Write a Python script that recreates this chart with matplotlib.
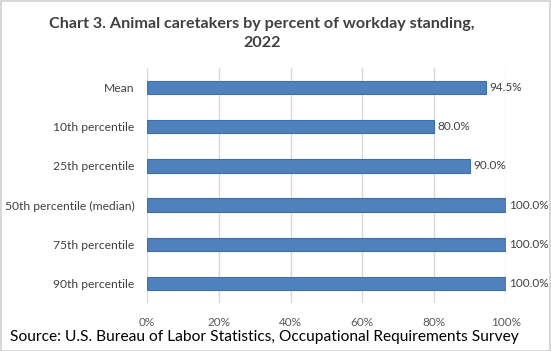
import matplotlib.pyplot as plt
from matplotlib.patches import Rectangle

categories = ['Mean', '10th percentile', '25th percentile', '50th percentile (median)',
              '75th percentile', '90th percentile']
values = [94.5, 80.0, 90.0, 100.0, 100.0, 100.0]
xticks = [0, 20, 40, 60, 80, 100]

plt.rcParams['font.family'] = ['Lato', 'DejaVu Sans']

fig = plt.figure(figsize=(5.51, 3.51), dpi=100)
fig.patch.set_facecolor('white')
fig.patches.append(Rectangle((0.001, 0.001), 0.997, 0.997, transform=fig.transFigure,
                             fill=False, edgecolor='#D0D0D0', linewidth=1.2))

ax = fig.add_axes([0.2668, 0.1368, 0.6515, 0.6695])
y = list(range(len(categories)))
ax.barh(y, values, height=0.34, color='#4F81BD', edgecolor='#3F6EA8', linewidth=0.8, zorder=3)
for yi, v in zip(y, values):
    ax.text(v + 0.9, yi, f'{v:.1f}%', va='center', ha='left', fontsize=8.5, color='#404040')

ax.set_ylim(len(categories) - 0.5, -0.5)
ax.set_xlim(0, 100)
ax.set_yticks(y)
ax.set_yticklabels(categories, fontsize=8.7, color='#404040')
ax.set_xticks(xticks)
ax.set_xticklabels([f'{t}%' for t in xticks], fontsize=8.5, color='#595959')
ax.tick_params(axis='y', length=0, pad=9)
ax.tick_params(axis='x', length=0, pad=10)
ax.grid(axis='x', color='#D9D9D9', linewidth=1, zorder=0)
for s in ax.spines.values():
    s.set_visible(False)

fig.text(0.475, 0.905, 'Chart 3. Animal caretakers by percent of workday standing,\n2022',
         ha='center', va='center', fontsize=11.6, fontweight='bold', color='#404040',
         linespacing=1.45)
fig.text(0.018, 0.039, 'Source: U.S. Bureau of Labor Statistics, Occupational Requirements Survey',
         ha='left', va='center', fontsize=11.2, color='black')

fig.savefig('out.png', dpi=100)
